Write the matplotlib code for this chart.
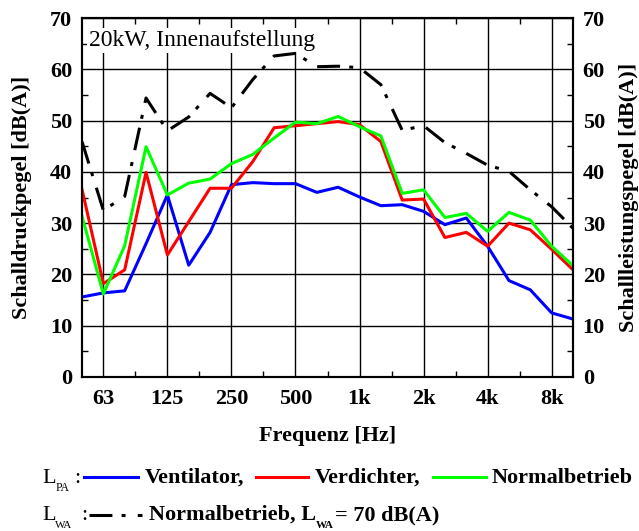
import numpy as np
import matplotlib
matplotlib.use('Agg')
from matplotlib import pyplot as plt
from matplotlib.lines import Line2D
from matplotlib.ticker import MultipleLocator, FixedLocator

# third-octave bands 50 Hz .. 10 kHz
bands = ['50', '63', '80', '100', '125', '160', '200', '250', '315', '400',
         '500', '630', '800', '1k', '1.25k', '1.6k', '2k', '2.5k', '3.15k',
         '4k', '5k', '6.3k', '8k', '10k']
tick_bands = ['63', '125', '250', '500', '1k', '2k', '4k', '8k']

# L_PA [dB(A)]
ventilator = [15.6, 16.4, 16.8, 26.0, 35.5, 21.8, 28.2, 37.5, 37.9, 37.7,
              37.7, 36.0, 37.0, 35.1, 33.4, 33.6, 32.3, 29.7, 31.0, 25.5,
              18.8, 17.0, 12.5, 11.3]
verdichter = [36.6, 18.2, 20.9, 39.9, 23.8, 30.3, 36.8, 36.8, 42.0, 48.6,
              49.0, 49.4, 49.8, 49.2, 45.9, 34.5, 34.7, 27.2, 28.2, 25.5,
              30.0, 28.7, 24.9, 20.9]
normal_pa = [31.4, 16.2, 25.6, 44.9, 35.5, 37.8, 38.6, 41.6, 43.4, 46.6,
             49.7, 49.4, 50.8, 48.8, 47.0, 35.8, 36.5, 31.1, 31.9, 28.4,
             32.1, 30.6, 25.5, 21.7]
# L_WA [dB(A)]
normal_wa = [45.9, 32.5, 35.2, 54.4, 48.0, 50.7, 55.3, 52.5, 58.0, 62.6,
             63.1, 60.5, 60.6, 60.3, 57.0, 48.1, 49.0, 45.7, 43.6, 41.3,
             40.1, 36.5, 33.2, 29.0]

plt.rcParams['font.family'] = ['Liberation Serif', 'DejaVu Serif']
W, H = 639, 531
fig = plt.figure(figsize=(W/100, H/100), dpi=100)
ax = fig.add_axes([82/W, 1-377/H, (573-82)/W, (377-18)/H])
ax2 = ax.twinx()

x = np.arange(len(bands))
lw = 2.2
ax.plot(x, ventilator, color='#0000ff', lw=lw, zorder=3)
ax.plot(x, verdichter, color='#ff0000', lw=lw, zorder=3)
ax.plot(x, normal_pa, color='#00ff00', lw=lw, zorder=3)
dashdot = (0, (7.5, 3.0, 1.3, 4.0))
ax2.plot(x, normal_wa, color='black', lw=lw, linestyle=dashdot, zorder=3)

for a in (ax, ax2):
    a.set_xlim(0, len(bands)-1)
    a.set_ylim(0, 70)
    a.yaxis.set_major_locator(MultipleLocator(10))
    a.yaxis.set_minor_locator(MultipleLocator(5))
ax.set_xticks([bands.index(b) for b in tick_bands])
ax.set_xticklabels(tick_bands)
ax.xaxis.set_minor_locator(FixedLocator(np.arange(2.5, 23, 3)))
ax.grid(True, which='major', color='black', lw=1.0)

ax.tick_params(axis='both', which='both', direction='in', labelsize=16,
               top=True)
ax.tick_params(axis='x', which='major', length=0, pad=9)
ax.tick_params(axis='y', which='major', length=0, pad=7)
ax.tick_params(which='minor', length=4, width=1)
ax2.tick_params(axis='y', which='both', direction='in', labelsize=16, pad=7)
ax2.tick_params(which='major', length=0)
ax2.tick_params(which='minor', length=4, width=1)
for lab in ax.get_xticklabels() + ax.get_yticklabels() + ax2.get_yticklabels():
    lab.set_fontweight('bold')
for a in (ax, ax2):
    for s in a.spines.values():
        s.set_linewidth(1.5)

ax.set_xlabel('Frequenz [Hz]', fontsize=16, fontweight='bold', labelpad=12)
ax.set_ylabel('Schalldruckpegel [dB(A)]', fontsize=16, fontweight='bold',
              labelpad=13)
ax2.set_ylabel('Schallleistungspegel [dB(A)]', fontsize=16, fontweight='bold',
               labelpad=10)

ax.text(0.35, 65.6, '20kW, Innenaufstellung', fontsize=17, va='center',
        ha='left', zorder=4,
        bbox=dict(facecolor='white', edgecolor='none', pad=1.5))

renderer = fig.canvas.get_renderer()


# legend below the axes, built from pieces (pixel positions)
def ftext(xp, yp, s, **kw):
    t = fig.text(xp/W, 1-yp/H, s, va='baseline', ha='left', **kw)
    return t.get_window_extent(renderer).x1


def fline(x0, x1, yp, **kw):
    fig.add_artist(Line2D([x0/W, x1/W], [1-yp/H, 1-yp/H],
                          transform=fig.transFigure, **kw))


ftext(42, 483, 'L', fontsize=16)
ftext(56, 491, 'PA', fontsize=8.5)
ftext(74, 483, ':', fontsize=16)
fline(84, 138, 476.5, color='#0000ff', lw=lw)
ftext(145, 483, 'Ventilator,', fontsize=16, fontweight='bold')
fline(256, 308, 476.5, color='#ff0000', lw=lw)
ftext(315, 483, 'Verdichter,', fontsize=16, fontweight='bold')
fline(433, 486, 476.5, color='#00ff00', lw=lw)
ftext(492, 483, 'Normalbetrieb', fontsize=16, fontweight='bold')

ftext(42, 520, 'L', fontsize=16)
ftext(55, 528, 'WA', fontsize=8)
ftext(81, 520, ':', fontsize=16)
fline(89, 142, 515, color='black', lw=lw, linestyle=dashdot)
end = ftext(149, 520, 'Normalbetrieb, L', fontsize=16, fontweight='bold')
end = ftext(end, 528, 'WA', fontsize=8, fontweight='bold')
ftext(end + 1, 520, '= 70 dB(A)', fontsize=16, fontweight='bold')

fig.savefig('out.png', dpi=100)
